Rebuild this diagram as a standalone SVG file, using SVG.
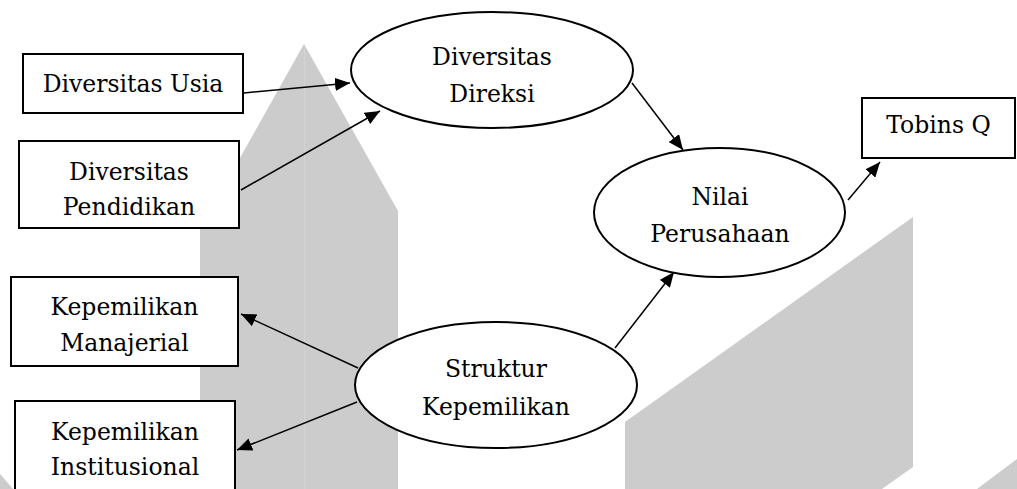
<svg xmlns="http://www.w3.org/2000/svg" width="1017" height="489" viewBox="0 0 1017 489">
<style>
.bg{fill:#cccccc;stroke:none}
.box{fill:#ffffff;stroke:#000000;stroke-width:2}
.ell{fill:#ffffff;stroke:#000000;stroke-width:2}
.lbl{font-family:'DejaVu Serif',serif;font-size:23.5px;fill:#000000;text-anchor:middle}
.con{fill:none;stroke:#000000;stroke-width:1.5}
</style>
<defs>
<marker id="arr" viewBox="0 0 15 13" refX="15" refY="6.5" markerWidth="15" markerHeight="13" markerUnits="userSpaceOnUse" orient="auto">
<path d="M0,0 L15,6.5 L0,13 Z" fill="#000000"/>
</marker>
</defs>
<g id="background">
<polygon class="bg" points="304,44 398,211 398,489 200,489 200,229"/>
<line x1="304.5" y1="46" x2="304.5" y2="489" stroke="#d3d3d3" stroke-width="1"/>
<polygon class="bg" points="625,422 913,217 913,467 882,489 625,489"/>
<polygon class="bg" points="977,489 1017,459 1017,489"/>
<polygon class="bg" points="0,474 13,489 0,489"/>
</g>
<g id="connectors">
<line class="con" x1="244" y1="93" x2="350" y2="83" marker-end="url(#arr)"/>
<line class="con" x1="241" y1="190" x2="380" y2="111" marker-end="url(#arr)"/>
<line class="con" x1="632" y1="83" x2="683" y2="150" marker-end="url(#arr)"/>
<line class="con" x1="848" y1="200" x2="880" y2="162" marker-end="url(#arr)"/>
<line class="con" x1="615" y1="348" x2="674" y2="272" marker-end="url(#arr)"/>
<line class="con" x1="358" y1="368" x2="241" y2="314" marker-end="url(#arr)"/>
<line class="con" x1="357" y1="402" x2="237" y2="450" marker-end="url(#arr)"/>
</g>
<g id="diversitas-usia">
<rect class="box" x="23" y="54" width="220" height="59"/>
<text class="lbl" x="133" y="92">Diversitas Usia</text>
</g>
<g id="diversitas-pendidikan">
<rect class="box" x="19" y="141" width="220" height="87"/>
<text class="lbl" x="129" y="180">Diversitas</text>
<text class="lbl" x="129" y="215">Pendidikan</text>
</g>
<g id="kepemilikan-manajerial">
<rect class="box" x="11" y="277" width="227" height="89"/>
<text class="lbl" x="124.5" y="315">Kepemilikan</text>
<text class="lbl" x="124.5" y="351">Manajerial</text>
</g>
<g id="kepemilikan-institusional">
<rect class="box" x="15" y="401" width="220" height="100"/>
<text class="lbl" x="125" y="440">Kepemilikan</text>
<text class="lbl" x="125" y="475">Institusional</text>
</g>
<g id="diversitas-direksi">
<ellipse class="ell" cx="492" cy="70" rx="141" ry="58"/>
<text class="lbl" x="492" y="65">Diversitas</text>
<text class="lbl" x="492" y="102">Direksi</text>
</g>
<g id="nilai-perusahaan">
<ellipse class="ell" cx="719.5" cy="212.5" rx="125.5" ry="64.5"/>
<text class="lbl" x="720" y="205">Nilai</text>
<text class="lbl" x="720" y="242">Perusahaan</text>
</g>
<g id="struktur-kepemilikan">
<ellipse class="ell" cx="496" cy="385" rx="141" ry="63"/>
<text class="lbl" x="496" y="377">Struktur</text>
<text class="lbl" x="496" y="415">Kepemilikan</text>
</g>
<g id="tobins-q">
<rect class="box" x="862" y="98" width="153" height="60"/>
<text class="lbl" x="938.5" y="133">Tobins Q</text>
</g>
</svg>
